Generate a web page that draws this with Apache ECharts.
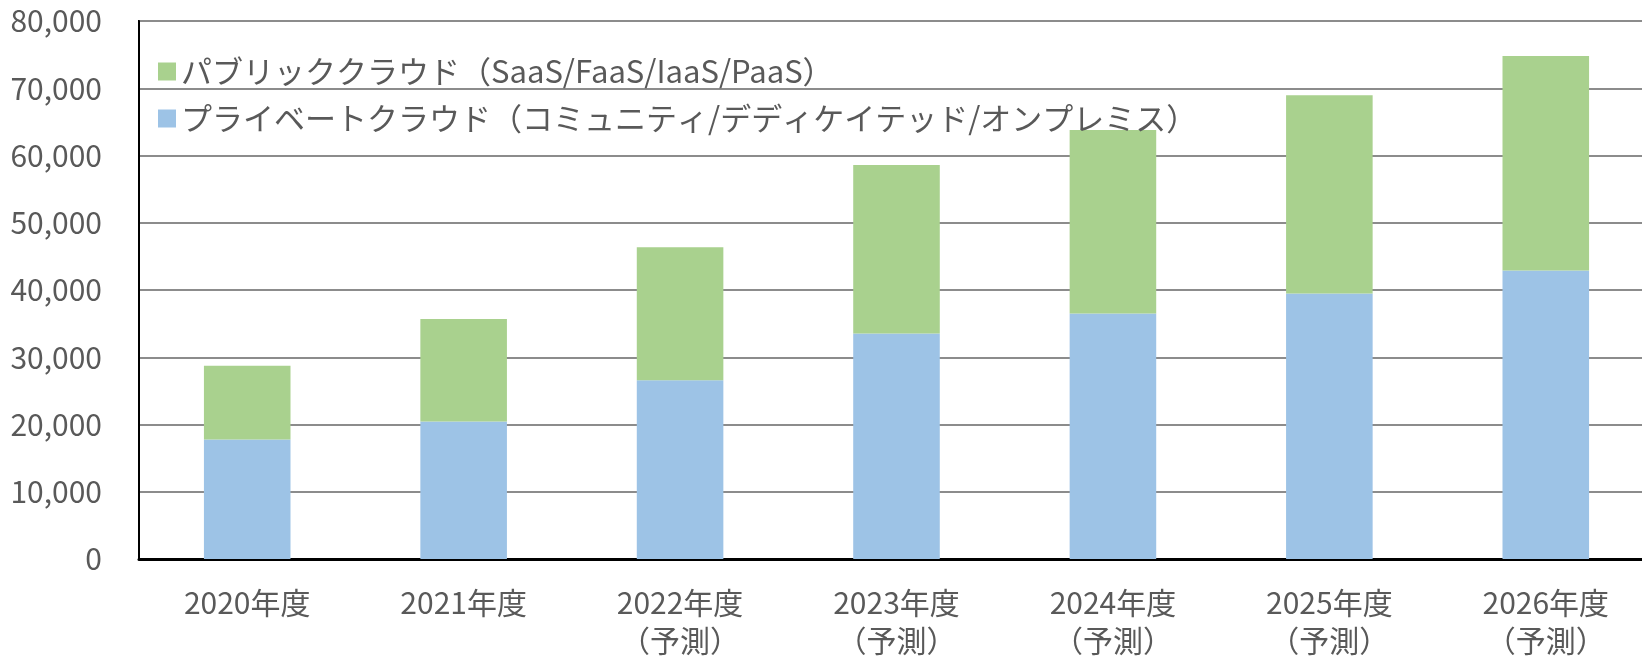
<!DOCTYPE html>
<html>
<head>
<meta charset="utf-8">
<script src="https://cdn.jsdelivr.net/npm/echarts@6/dist/echarts.min.js"></script>
<style>
  html, body { margin: 0; padding: 0; background: #fff; }
  #chart { width: 1642px; height: 656px; }
</style>
</head>
<body>
<div id="chart"></div>
<script>
const categories = [
  "2020年度",
  "2021年度",
  "2022年度\n（予測）",
  "2023年度\n（予測）",
  "2024年度\n（予測）",
  "2025年度\n（予測）",
  "2026年度\n（予測）",
];
const privateName = "プライベートクラウド（コミュニティ/デディケイテッド/オンプレミス）";
const publicName = "パブリッククラウド（SaaS/FaaS/IaaS/PaaS）";
const privateData = [17770, 20450, 26590, 33540, 36520, 39490, 42900];
const publicData = [10950, 15220, 19750, 25050, 27270, 29470, 31900];
const yMin = 0;
const yMax = 80000;
const yStep = 10000;

const font = "Noto Sans CJK JP";
const textColor = "#595959";

const chart = echarts.init(document.getElementById("chart"));
chart.setOption({
  animation: false,
  textStyle: { fontFamily: font },
  grid: {
    left: 139,
    right: -12,
    top: 21,
    bottom: 97,
    containLabel: false,
    outerBoundsMode: "none",
    show: true,
    borderColor: "#000",
    borderWidth: 2,
    backgroundColor: "transparent",
  },
  legend: {
    orient: "vertical",
    left: 153,
    top: 51,
    itemWidth: 18,
    itemHeight: 18,
    itemGap: 16,
    icon: "rect",
    data: [publicName, privateName],
    textStyle: {
      fontFamily: font,
      fontSize: 31,
      lineHeight: 31,
      color: textColor,
    },
  },
  xAxis: {
    type: "category",
    data: categories,
    axisLine: { lineStyle: { color: "#000", width: 3 } },
    axisTick: { show: false },
    axisLabel: {
      fontFamily: font,
      fontSize: 30,
      lineHeight: 38,
      color: textColor,
      margin: 25,
      verticalAlign: "top",
      interval: 0,
    },
  },
  yAxis: {
    type: "value",
    min: yMin,
    max: yMax,
    interval: yStep,
    axisLine: { show: true, lineStyle: { color: "#000", width: 2 } },
    axisTick: { show: false },
    splitLine: { lineStyle: { color: "#8c8c8c", width: 2 } },
    axisLabel: {
      fontFamily: font,
      fontSize: 30,
      color: textColor,
      margin: 37,
      formatter: (v) => v.toLocaleString("en-US"),
    },
  },
  series: [
    {
      name: privateName,
      type: "bar",
      stack: "total",
      barWidth: "40%",
      itemStyle: { color: "#9DC3E6" },
      data: privateData,
    },
    {
      name: publicName,
      type: "bar",
      stack: "total",
      barWidth: "40%",
      itemStyle: { color: "#A9D18E" },
      data: publicData,
    },
  ],
});
</script>
</body>
</html>
